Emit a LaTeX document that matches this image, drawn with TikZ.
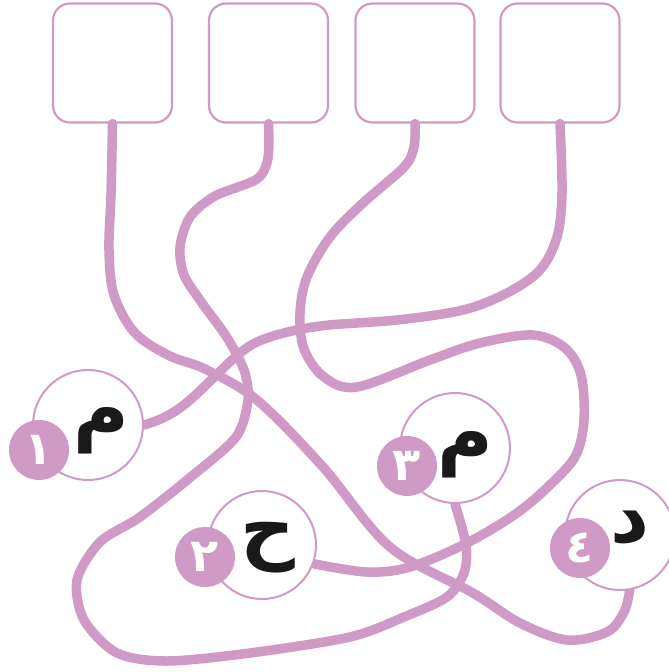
\documentclass[tikz,border=0pt]{standalone}
\usepackage{fontspec}
\newfontfamily\arabicfont[Script=Arabic]{DejaVu Sans}
\TeXXeTstate=1
\definecolor{lil}{RGB}{207,154,198}
\begin{document}
\begin{tikzpicture}[x=1pt,y=-1pt,
  box/.style={draw=lil,line width=2.2pt,fill=white,rounded corners=17pt,minimum width=119pt,minimum height=119pt,inner sep=0pt},
  ring/.style={circle,draw=lil,line width=2pt,fill=white,minimum size=#1,inner sep=0pt},
  dot/.style={circle,fill=lil,minimum size=60pt,inner sep=0pt,text=white,font=\arabicfont\bfseries\fontsize{46}{46}\selectfont},
  letter/.style={inner sep=0pt,text=black!90,font=\arabicfont\bfseries\fontsize{76}{76}\selectfont},
  wire/.style={draw=lil,line width=9.5pt,line cap=round}]
\useasboundingbox (0,0) rectangle (669,672);
\clip (0,0) rectangle (669,672);
% boxes
\node[box] (b1) at (112.5,63) {};
\node[box] (b2) at (268.5,63) {};
\node[box] (b3) at (415,63) {};
\node[box] (b4) at (560,63) {};
% circle positions
\coordinate (c1p) at (88,425);
\coordinate (c2p) at (262,545);
\coordinate (c3p) at (455,448);
\coordinate (c4p) at (620,535);
\node[ring=110pt,draw=none,fill=none] (c1) at (c1p) {};
\node[ring=108pt,draw=none,fill=none] (c2) at (c2p) {};
\node[ring=110pt,draw=none,fill=none] (c3) at (c3p) {};
\node[ring=110pt,draw=none,fill=none] (c4) at (c4p) {};
% wires
\draw[wire] plot[smooth,tension=0.55] coordinates {(b1.south) (111,195) (109,250) (114,295) (135,333) (170,356) (205,369) (257,400) (323,467) (390,547) (473,593) (520,623) (567,640) (607,632) (624,612) (c4.-80)};
\draw[wire] plot[smooth,tension=0.5] coordinates {(b2.south) (268,158) (257,179) (215,196) (190,217) (180,247) (184,275) (202,303) (226,336) (244,370) (248,400) (236,437) (192,476) (140,517) (100,542) (77,580) (84,620) (117,653) (167,661) (250,653) (350,637) (404,617) (447,597) (464,573) (466,545) (c3.south)};
\draw[wire] plot[smooth,tension=0.55] coordinates {(b3.south) (414,147) (404,167) (363,203) (330,237) (307,277) (300,313) (304,349) (324,377) (357,387) (430,360) (480,343) (533,335) (565,348) (581,375) (584,420) (576,455) (553,482) (517,513) (467,543) (410,567) (367,572) (c2.-20)};
\draw[wire] plot[smooth,tension=0.55] coordinates {(b4.south) (562,193) (557,237) (540,270) (507,293) (463,310) (397,320) (320,326) (270,337) (240,353) (190,400) (165,417) (c1.east)};
% circles
\node[ring=110pt] at (c1p) {};
\node[ring=108pt] at (c2p) {};
\node[ring=110pt] at (c3p) {};
\node[ring=110pt] at (c4p) {};
\node[dot] (d1) at (39,450) {\beginR ١\endR};
\node[dot] (d2) at (205,557) {\beginR ٢\endR};
\node[dot] (d3) at (407,466) {\beginR ٣\endR};
\node[dot] (d4) at (580,548) {\beginR ٤\endR};
\node[letter] (l1) at (101,431) {\beginR م\endR};
\node[letter] (l2) at (268,548) {\beginR ح\endR};
\node[letter] (l3) at (465,455) {\beginR م\endR};
\node[letter] (l4) at (630,528) {\beginR د\endR};
\end{tikzpicture}
\end{document}
